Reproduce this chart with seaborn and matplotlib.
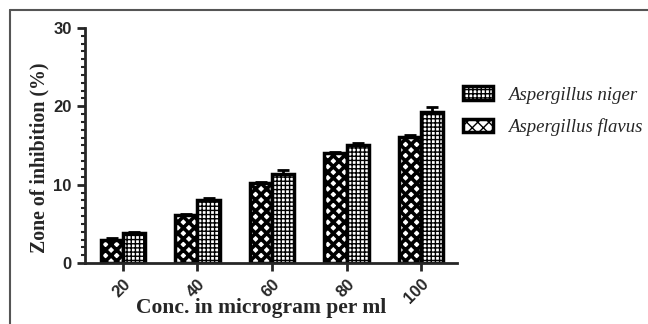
import matplotlib
matplotlib.use("Agg")
import matplotlib.pyplot as plt
import matplotlib.patches as mpatches
from matplotlib.ticker import MultipleLocator
import numpy as np
import pandas as pd
import seaborn as sns

concentrations = ["20", "40", "60", "80", "100"]
niger_vals = [3.9, 8.1, 11.4, 15.1, 19.3]
niger_err = [0.1, 0.2, 0.5, 0.2, 0.6]
flavus_vals = [3.0, 6.1, 10.2, 14.1, 16.1]
flavus_err = [0.2, 0.1, 0.2, 0.1, 0.2]

NIGER = "Aspergillus niger"
FLAVUS = "Aspergillus flavus"

sns.set_style("ticks")
plt.rcParams["font.family"] = ["Liberation Sans", "DejaVu Sans"]
plt.rcParams["hatch.linewidth"] = 1.0

df = pd.DataFrame({
    "conc": concentrations * 2,
    "species": [FLAVUS] * 5 + [NIGER] * 5,
    "value": flavus_vals + niger_vals,
})
errs = {FLAVUS: flavus_err, NIGER: niger_err}
hatches = {FLAVUS: "xxx", NIGER: "++++"}
order = [FLAVUS, NIGER]

fig = plt.figure(figsize=(6.48, 3.24), dpi=100)
ax = fig.add_axes([0.131, 0.188, 0.574, 0.726])

sns.barplot(data=df, x="conc", y="value", hue="species", hue_order=order,
            order=concentrations, width=0.6, gap=0, color="white",
            edgecolor="black", linewidth=2.5, errorbar=None, legend=False, ax=ax)

for species, cont in zip(order, ax.containers):
    xs, hs = [], []
    for bar in cont:
        bar.set_facecolor("white")
        bar.set_hatch(hatches[species])
        if species == FLAVUS and hasattr(bar, "set_hatch_linewidth"):
            bar.set_hatch_linewidth(2.6)
        xs.append(bar.get_x() + bar.get_width() / 2)
        hs.append(bar.get_height())
    ax.errorbar(xs, hs, yerr=[np.zeros(len(hs)), errs[species]], fmt="none",
                ecolor="black", elinewidth=2, capsize=4, capthick=2, zorder=1)

ax.set_ylim(0, 30)
ax.set_xlim(-0.51, 4.48)
ax.yaxis.set_major_locator(MultipleLocator(10))
ax.yaxis.set_minor_locator(MultipleLocator(1))
sns.despine(ax=ax)
for s in ("left", "bottom"):
    ax.spines[s].set_linewidth(2)
ax.tick_params(axis="both", which="major", width=2, length=6, labelsize=12)
ax.tick_params(axis="y", which="minor", width=1.5, length=3)
for lab in ax.get_xticklabels() + ax.get_yticklabels():
    lab.set_fontweight("bold")
plt.setp(ax.get_xticklabels(), rotation=45, ha="right", rotation_mode="anchor")

ax.set_xlabel("Conc. in microgram per ml", family="Liberation Serif",
              fontweight="bold", fontsize=15.5)
ax.xaxis.set_label_coords(0.473, -0.15)
ax.set_ylabel("Zone of inhibition (%)", family="Liberation Serif",
              fontweight="bold", fontsize=14.3)
ax.yaxis.set_label_coords(-0.094, 0.447)

handles = [
    mpatches.Patch(facecolor="white", edgecolor="black", linewidth=2.5,
                   hatch=hatches[NIGER], label=NIGER),
    mpatches.Patch(facecolor="white", edgecolor="black", linewidth=2.5,
                   hatch=hatches[FLAVUS], label=FLAVUS),
]
fig.legend(handles=handles, loc="center left", bbox_to_anchor=(0.688, 0.656),
           frameon=False, handlelength=1.6, handleheight=0.7, labelspacing=0.8,
           prop={"family": "Liberation Serif", "style": "italic", "size": 13.5})

fig.add_artist(plt.Line2D([10 / 648, 10 / 648], [0, 1 - 10 / 324],
                          transform=fig.transFigure, color="#555555", lw=1.5))
fig.add_artist(plt.Line2D([10 / 648, 1], [1 - 10 / 324, 1 - 10 / 324],
                          transform=fig.transFigure, color="#555555", lw=1.5))

fig.savefig("out.png", dpi=100)
